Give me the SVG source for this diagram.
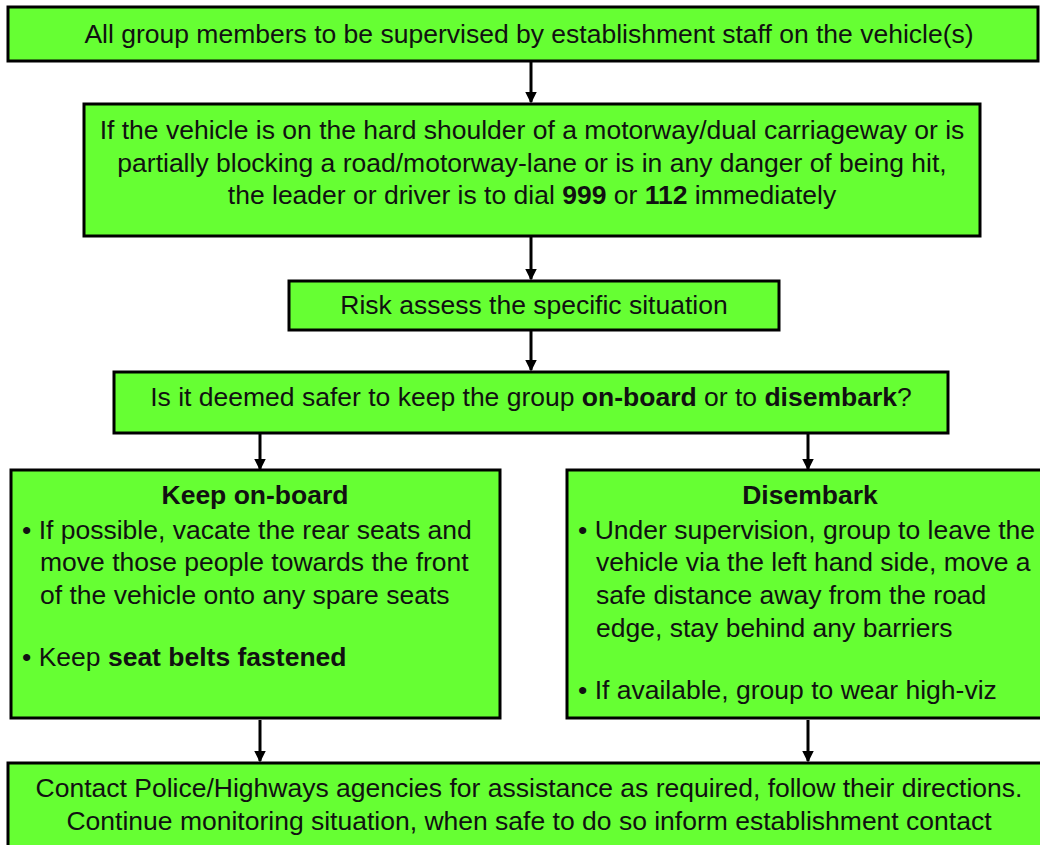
<svg xmlns="http://www.w3.org/2000/svg" width="1040" height="845" viewBox="0 0 1040 845">
<defs>
<marker id="ah" markerWidth="4" markerHeight="4" refX="3.5" refY="2" orient="auto" markerUnits="strokeWidth"><path d="M0,0 L4,2 L0,4 Z" fill="#000"/></marker>
<style>
.box{fill:#66ff33;stroke:#000;stroke-width:3}
text{font-family:"Liberation Sans",Arial,sans-serif;font-size:26.5px;fill:#111}
.c{text-anchor:middle}
.b{font-weight:bold}
.conn{stroke:#000;stroke-width:3;fill:none;marker-end:url(#ah)}
</style>
</defs>
<rect width="1040" height="845" fill="#fff"/>
<g id="connectors">
<line class="conn" x1="531" y1="62" x2="531" y2="102"/>
<line class="conn" x1="531" y1="237" x2="531" y2="279"/>
<line class="conn" x1="531" y1="331" x2="531" y2="370"/>
<line class="conn" x1="260" y1="434" x2="260" y2="469"/>
<line class="conn" x1="808" y1="434" x2="808" y2="469"/>
<line class="conn" x1="260" y1="720" x2="260" y2="761"/>
<line class="conn" x1="808" y1="720" x2="808" y2="761"/>
</g>
<g id="n1">
<rect class="box" x="8" y="7" width="1030" height="54"/>
<text class="c" x="529" y="43">All group members to be supervised by establishment staff on the vehicle(s)</text>
</g>
<g id="n2">
<rect class="box" x="84" y="104" width="896" height="132"/>
<text class="c" x="532" y="139">If the vehicle is on the hard shoulder of a motorway/dual carriageway or is</text>
<text class="c" x="532" y="172">partially blocking a road/motorway-lane or is in any danger of being hit,</text>
<text class="c" x="532" y="204">the leader or driver is to dial <tspan class="b">999</tspan> or <tspan class="b">112</tspan> immediately</text>
</g>
<g id="n3">
<rect class="box" x="289" y="281" width="490" height="49"/>
<text class="c" x="534" y="314">Risk assess the specific situation</text>
</g>
<g id="n4">
<rect class="box" x="114" y="372" width="834" height="61"/>
<text class="c" x="531" y="406">Is it deemed safer to keep the group <tspan class="b">on-board</tspan> or to <tspan class="b">disembark</tspan>?</text>
</g>
<g id="n5">
<rect class="box" x="11" y="470" width="489" height="248"/>
<text class="c b" x="255" y="504">Keep on-board</text>
<text x="22" y="539">• If possible, vacate the rear seats and</text>
<text x="40" y="571">move those people towards the front</text>
<text x="40" y="604">of the vehicle onto any spare seats</text>
<text x="22" y="666">• Keep <tspan class="b">seat belts fastened</tspan></text>
</g>
<g id="n6">
<rect class="box" x="567" y="470" width="480" height="248"/>
<text class="c b" x="810" y="504">Disembark</text>
<text x="578" y="539">• Under supervision, group to leave the</text>
<text x="596" y="571">vehicle via the left hand side, move a</text>
<text x="596" y="604">safe distance away from the road</text>
<text x="596" y="637">edge, stay behind any barriers</text>
<text x="578" y="699">• If available, group to wear high-viz</text>
</g>
<g id="n7">
<rect class="box" x="8" y="763" width="1040" height="100"/>
<text class="c" x="529" y="797">Contact Police/Highways agencies for assistance as required, follow their directions.</text>
<text class="c" x="529" y="830">Continue monitoring situation, when safe to do so inform establishment contact</text>
</g>
</svg>
